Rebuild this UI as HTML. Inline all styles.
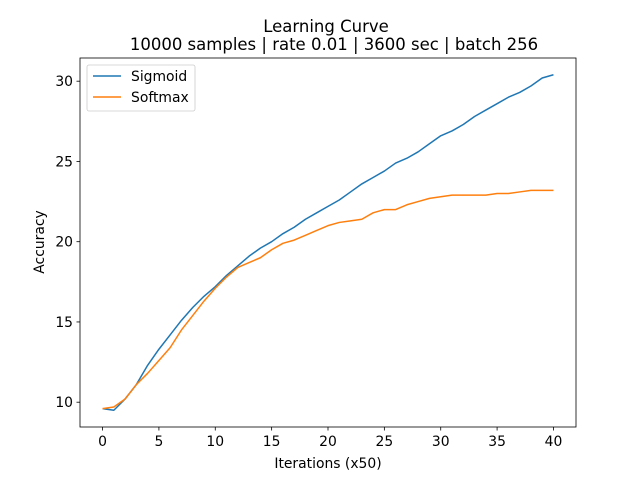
<!DOCTYPE html>
<html><head><meta charset="utf-8"><style>body{margin:0;background:#fff}svg{display:block;font-family:"DejaVu Sans","Liberation Sans",sans-serif}</style></head>
<body>
<svg id="chart" width="640" height="480" xmlns="http://www.w3.org/2000/svg">
<rect width="640" height="480" fill="#fff"/>
<text x="326" y="32" font-size="16.5" text-anchor="middle">Learning Curve</text>
<text x="334" y="50" font-size="16.5" text-anchor="middle">10000 samples | rate 0.01 | 3600 sec | batch 256</text>
<g id="plot"></g>
<rect x="80" y="58" width="496" height="369" fill="none" stroke="#000" stroke-width="0.8"/>
<text x="328" y="468" font-size="13.9" text-anchor="middle">Iterations (x50)</text>
<text transform="translate(44,242) rotate(-90)" font-size="13.9" text-anchor="middle">Accuracy</text>
<g>
<rect x="87" y="65" width="108" height="46" rx="2" fill="#fff" stroke="#ccc" stroke-width="0.8"/>
<line x1="93" y1="76" x2="121" y2="76" stroke="#1f77b4" stroke-width="1.5"/>
<text x="131" y="81" font-size="13.9">Sigmoid</text>
<line x1="93" y1="97" x2="121" y2="97" stroke="#ff7f0e" stroke-width="1.5"/>
<text x="131" y="102" font-size="13.9">Softmax</text>
</g>
</svg>
<script>
const iterations=[0,1,2,3,4,5,6,7,8,9,10,11,12,13,14,15,16,17,18,19,20,21,22,23,24,25,26,27,28,29,30,31,32,33,34,35,36,37,38,39,40];
const sigmoid=[9.6,9.5,10.2,11.1,12.3,13.3,14.2,15.1,15.9,16.6,17.2,17.9,18.5,19.1,19.6,20.0,20.5,20.9,21.4,21.8,22.2,22.6,23.1,23.6,24.0,24.4,24.9,25.2,25.6,26.1,26.6,26.9,27.3,27.8,28.2,28.6,29.0,29.3,29.7,30.2,30.4];
const softmax=[9.6,9.7,10.2,11.1,11.8,12.6,13.4,14.5,15.4,16.3,17.1,17.8,18.4,18.7,19.0,19.5,19.9,20.1,20.4,20.7,21.0,21.2,21.3,21.4,21.8,22.0,22.0,22.3,22.5,22.7,22.8,22.9,22.9,22.9,22.9,23.0,23.0,23.1,23.2,23.2,23.2];
const xTicks=[0,5,10,15,20,25,30,35,40];
const yTicks=[10,15,20,25,30];
const L=80,R=576,T=58,B=427;
const all=sigmoid.concat(softmax);
const xmin=Math.min(...iterations),xmax=Math.max(...iterations),xp=(xmax-xmin)*0.05;
const ymin=Math.min(...all),ymax=Math.max(...all),yp=(ymax-ymin)*0.05;
const sx=v=>L+(v-(xmin-xp))/((xmax+xp)-(xmin-xp))*(R-L);
const sy=v=>B-(v-(ymin-yp))/((ymax+yp)-(ymin-yp))*(B-T);
const NS='http://www.w3.org/2000/svg',g=document.getElementById('plot');
function mk(t,a){const e=document.createElementNS(NS,t);for(const k in a)e.setAttribute(k,a[k]);g.appendChild(e);return e;}
xTicks.forEach(v=>{const x=sx(v);
const l=mk('line',{x1:x,x2:x,y1:B,y2:B+3.5,stroke:'#000','stroke-width':0.8});


const t=mk('text',{x:x,y:B+19,'font-size':13.9,'text-anchor':'middle'});t.textContent=v;

});
yTicks.forEach(v=>{const y=sy(v);
const l=mk('line',{x1:L-3.5,x2:L,y1:y,y2:y,stroke:'#000','stroke-width':0.8});


const t=mk('text',{x:L-7,y:y+5,'font-size':13.9,'text-anchor':'end'});t.textContent=v;

});
function line(d,c,n){const p=mk('polyline',{points:d.map((v,i)=>sx(iterations[i])+','+sy(v)).join(' '),fill:'none',stroke:c,'stroke-width':1.5,'stroke-linejoin':'round'});

}
line(sigmoid,'#1f77b4','sigmoid-line');
line(softmax,'#ff7f0e','softmax-line');
</script>
</body></html>
